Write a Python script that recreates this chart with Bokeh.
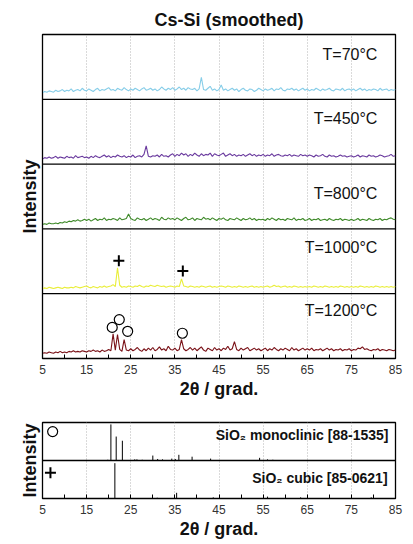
import numpy as np
from bokeh.plotting import figure
from bokeh.layouts import column
from bokeh.models import FixedTicker, Span, Label
from bokeh.embed import file_html
from bokeh.resources import INLINE

# ---------------- data ----------------
two_theta = np.arange(5.0, 85.01, 0.5)   # 2-theta grid, 0.5 deg steps (161 points)

temperatures = ["T=70°C", "T=450°C", "T=800°C", "T=1000°C", "T=1200°C"]

# intensities (arbitrary units, 100 = height of one panel)
int_70 = [10,12,11,13,12,11,14,12,13,15,12,14,13,16,12,14,15,13,17,14,
          13,16,14,12,15,17,13,15,14,16,18,14,15,13,17,15,14,18,15,13,
          16,14,17,15,13,16,18,14,15,17,14,16,13,15,19,16,14,17,15,18,
          14,16,19,15,17,14,18,16,15,17,13,16,34,15,14,17,20,14,16,13,
          15,22,14,16,13,15,17,14,16,12,15,17,14,13,16,15,12,14,17,15,
          13,16,14,15,17,13,16,15,18,14,13,16,15,17,14,16,13,15,17,14,
          16,13,15,14,17,15,13,16,14,15,17,14,13,16,15,14,17,13,15,16,
          14,16,13,15,17,14,16,13,15,14,16,15,13,17,14,15,16,13,15,14,
          15]
int_450 = [8,10,9,11,9,10,12,9,11,10,9,12,10,11,9,13,10,11,12,10,
           11,9,12,10,13,11,10,12,14,11,13,10,12,11,14,12,11,13,10,12,
           11,14,10,12,13,11,15,28,12,11,13,12,14,11,15,12,13,11,14,16,
           12,15,13,17,14,16,12,15,13,17,14,12,16,13,15,14,17,12,16,14,
           13,15,17,12,14,16,13,15,12,14,13,15,12,14,16,13,15,12,14,13,
           15,12,14,13,16,12,14,15,13,12,14,13,15,12,14,13,12,15,13,14,
           12,14,13,11,14,12,13,15,12,11,14,12,13,11,12,14,12,13,11,12,
           13,11,12,14,11,13,12,11,14,12,13,11,12,14,13,11,12,13,15,12,
           13]
int_800 = [7,8,7,9,8,8,9,8,10,9,11,10,12,11,13,12,14,12,13,15,
           13,15,12,14,16,13,15,14,17,13,15,14,16,15,13,17,14,15,16,23,
           16,14,13,17,15,14,16,13,15,17,14,16,15,13,18,15,14,17,15,16,
           14,17,15,13,16,18,14,15,17,13,16,15,14,18,15,16,14,17,15,13,
           16,15,17,14,13,16,15,14,17,15,13,16,14,15,17,14,16,13,15,14,
           15,13,16,14,17,15,13,16,14,15,13,16,15,14,17,13,15,14,16,13,
           14,16,13,15,14,16,13,14,15,13,16,14,13,15,14,16,13,15,14,13,
           15,13,14,16,13,15,14,13,16,14,13,15,14,16,13,15,14,16,17,15,
           14]
int_1000 = [8,9,8,10,9,8,9,10,9,8,10,9,9,10,9,11,10,9,10,11,
            12,10,9,11,10,9,11,10,12,10,11,12,14,11,40,13,10,11,10,12,
            11,10,12,11,13,11,10,12,11,13,12,11,13,12,11,12,10,11,12,11,
            10,12,11,23,12,11,10,12,11,10,11,10,12,11,10,11,12,10,11,10,
            11,12,11,10,12,11,10,11,10,12,11,10,11,10,11,12,10,11,10,11,
            10,11,12,10,11,13,11,12,10,11,12,10,11,10,12,11,10,11,10,11,
            10,11,10,12,11,10,11,10,12,11,10,11,10,11,10,12,11,10,11,10,
            11,10,11,10,12,11,10,11,10,11,10,12,11,10,11,10,11,10,11,10,
            11]
int_1200 = [8,9,8,10,9,8,10,9,11,9,10,9,11,10,12,10,11,10,12,11,
            10,12,11,13,11,12,10,13,11,12,14,12,38,13,37,14,11,29,13,12,
            15,12,14,17,13,11,15,12,16,13,17,12,14,18,13,15,12,19,14,13,
            16,12,14,29,15,12,14,17,13,16,12,15,18,13,11,16,14,12,17,13,
            15,12,16,14,19,13,15,26,14,12,16,13,15,17,12,14,16,13,15,12,
            14,16,12,15,13,17,14,12,15,13,16,14,12,17,13,15,12,14,16,13,
            15,13,16,12,14,13,15,12,14,16,13,15,12,14,13,15,12,14,13,15,
            12,14,13,16,15,18,14,15,13,12,14,13,15,12,14,13,12,14,13,12,
            13]

# phase markers in the measured patterns
mono_mark_x = [20.8, 22.4, 24.3, 36.7]
mono_mark_y = [48, 60, 42, 39]          # 1200 C panel
cubic_mark_x = [22.3, 36.8]
cubic_mark_y = [151, 135]               # 1000 C panel

# reference patterns (stick positions / relative intensity, 100 = panel height)
mono_pos = [19.8, 20.5, 21.7, 23.1, 25.9, 26.4, 27.6, 30.0, 31.1, 32.2, 34.3, 35.1, 35.9, 38.9, 43.1, 54.2, 56.0, 57.2]
mono_int = [2, 95, 63, 52, 3, 3, 2, 13, 4, 3, 5, 4, 15, 10, 5, 7, 3, 2]
cubic_pos = [21.4, 31.0, 35.4, 43.7, 56.0, 63.5, 79.5]
cubic_int = [93, 2, 15, 3, 5, 3, 3]

x_major = [5, 15, 25, 35, 45, 55, 65, 75, 85]
x_minor = [10, 20, 30, 40, 50, 60, 70, 80]

# ---------------- style ----------------
FONT = "Liberation Sans"
colors = ["#86cde8", "#6a3a9e", "#3f8a2a", "#e9ee3a", "#7a1218"]
offsets = [400, 300, 200, 100, 0]
label_y = [469, 371, 254, 172, 74]


def style_x(p):
    ax = p.xaxis[0]
    ax.ticker = FixedTicker(ticks=x_major, minor_ticks=x_minor)
    ax.major_tick_in = 4
    ax.major_tick_out = 0
    ax.minor_tick_in = 4
    ax.minor_tick_out = 0
    ax.major_tick_line_color = "black"
    ax.minor_tick_line_color = "black"
    ax.axis_line_color = "black"
    ax.major_label_text_font = FONT
    ax.major_label_text_font_size = "12px"
    ax.major_label_text_color = "#333333"
    ax.major_label_standoff = 6
    ax.axis_label = "2θ / grad."
    ax.axis_label_text_font = FONT
    ax.axis_label_text_font_size = "18px"
    ax.axis_label_text_font_style = "bold"
    ax.axis_label_text_color = "#111111"
    ax.axis_label_standoff = 2
    p.xgrid.grid_line_color = "#b5b5b5"
    p.xgrid.grid_line_dash = "1 2"
    p.xgrid.grid_line_width = 1
    p.ygrid.grid_line_color = None


def style_y(p):
    ax = p.yaxis[0]
    ax.ticker = FixedTicker(ticks=[])
    ax.major_tick_in = 0
    ax.major_tick_out = 0
    ax.minor_tick_in = 0
    ax.minor_tick_out = 0
    ax.major_label_standoff = 0
    ax.axis_line_color = "black"
    ax.axis_label = "Intensity"
    ax.axis_label_text_font = FONT
    ax.axis_label_text_font_size = "18px"
    ax.axis_label_text_font_style = "bold"
    ax.axis_label_text_color = "#111111"
    ax.axis_label_standoff = 3


# ---------------- top figure ----------------
p1 = figure(width=413, height=403, x_range=(5, 85), y_range=(0, 500),
            output_backend="svg", toolbar_location=None,
            min_border_left=42, min_border_right=18, min_border_top=34, min_border_bottom=45)
p1.outline_line_color = "black"
p1.outline_line_width = 1.3
p1.background_fill_color = "white"
p1.border_fill_color = "white"
p1.title.text = "Cs-Si (smoothed)"
p1.title.align = "left"
p1.title.offset = 112
p1.title.text_font = FONT
p1.title.text_font_size = "18px"
p1.title.text_font_style = "bold"
p1.title.text_color = "#111111"
style_x(p1)
style_y(p1)

series = [int_70, int_450, int_800, int_1000, int_1200]
for vals, col, off in zip(series, colors, offsets):
    p1.line(two_theta, np.array(vals) + off, line_color=col, line_width=1.1)

for b in [100, 200, 300, 400]:
    p1.add_layout(Span(location=b, dimension="width", line_color="black", line_width=1.3))

for t, ly in zip(temperatures, label_y):
    p1.add_layout(Label(x=80.9, y=ly, text=t, text_align="right", text_baseline="middle",
                        text_font=FONT, text_font_size="16px", text_color="#111111"))

p1.scatter(mono_mark_x, mono_mark_y, marker="circle", size=10, fill_color=None,
           line_color="black", line_width=1.2)
p1.scatter(cubic_mark_x, cubic_mark_y, marker="cross", size=11,
           line_color="black", line_width=2)

# ---------------- bottom figure ----------------
p2 = figure(width=413, height=141, x_range=(5, 85), y_range=(0, 200),
            output_backend="svg", toolbar_location=None,
            min_border_left=42, min_border_right=18, min_border_top=19, min_border_bottom=46)
p2.outline_line_color = "black"
p2.outline_line_width = 1.3
p2.background_fill_color = "white"
p2.border_fill_color = "white"
style_x(p2)
style_y(p2)

p2.segment(x0=mono_pos, y0=[100] * len(mono_pos), x1=mono_pos,
           y1=[100 + v for v in mono_int], line_color="black", line_width=1)
p2.segment(x0=cubic_pos, y0=[0] * len(cubic_pos), x1=cubic_pos,
           y1=cubic_int, line_color="black", line_width=1)
p2.add_layout(Span(location=100, dimension="width", line_color="black", line_width=1.3))

p2.add_layout(Label(x=83.4, y=166, text="SiO₂ monoclinic [88-1535]", text_align="right",
                    text_baseline="middle", text_font=FONT, text_font_size="14px",
                    text_font_style="bold", text_color="#111111"))
p2.add_layout(Label(x=83.2, y=55, text="SiO₂ cubic [85-0621]", text_align="right",
                    text_baseline="middle", text_font=FONT, text_font_size="14px",
                    text_font_style="bold", text_color="#111111"))
p2.scatter([7.3], [176], marker="circle", size=10, fill_color=None,
           line_color="black", line_width=1.2)
p2.scatter([6.8], [68], marker="cross", size=11, line_color="black", line_width=2)

layout = column(p1, p2, spacing=0)
open("out.html", "w").write(file_html(layout, INLINE))
